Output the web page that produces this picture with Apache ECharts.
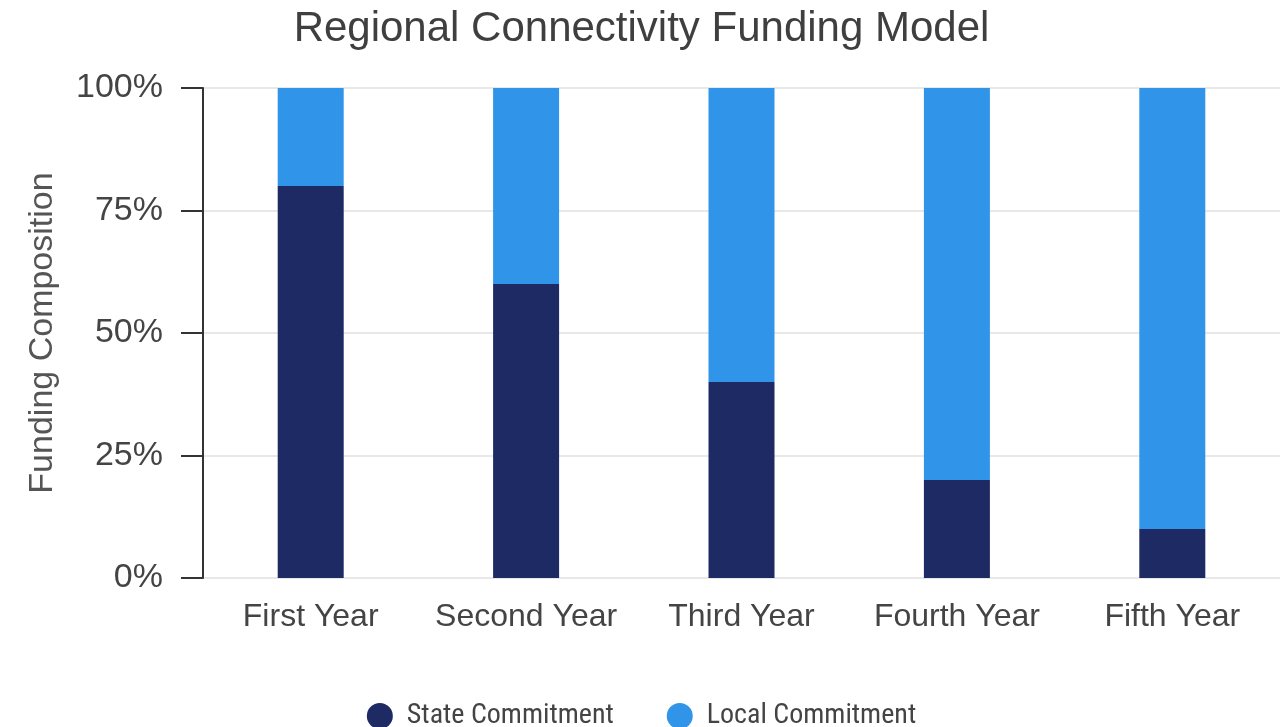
<!DOCTYPE html>
<html>
<head>
<meta charset="utf-8">
<script src="https://cdn.jsdelivr.net/npm/echarts@6/dist/echarts.min.js"></script>
<style>html,body{margin:0;padding:0;background:#fff}#c{width:1283px;height:727px}</style>
</head>
<body>
<div id="c"></div>
<script>
const categories = ['First Year', 'Second Year', 'Third Year', 'Fourth Year', 'Fifth Year'];
const stateCommitment = [80, 60, 40, 20, 10];
const localCommitment = [20, 40, 60, 80, 90];
const yTicks = [0, 25, 50, 75, 100];

const chart = echarts.init(document.getElementById('c'));
chart.setOption({
  animation: false,
  backgroundColor: '#ffffff',
  title: {
    text: 'Regional Connectivity Funding Model',
    left: 'center',
    top: 3,
    textStyle: { fontFamily: 'Liberation Sans, Arial', fontSize: 42, fontWeight: 'normal', color: '#3f3f3f' }
  },
  legend: {
    data: ['State Commitment', 'Local Commitment'],
    left: 'center',
    top: 697,
    icon: 'circle',
    itemWidth: 26,
    itemHeight: 26,
    itemGap: 53,
    textStyle: { fontFamily: "'Roboto Condensed', 'Liberation Sans Narrow', Roboto", fontSize: 28, color: '#444', padding: [0, 0, 0, 9] }
  },
  grid: { left: 203, right: 3, top: 88, bottom: 149 },
  xAxis: {
    type: 'category',
    data: categories,
    axisLine: { show: false },
    axisTick: { show: false },
    axisLabel: { interval: 0, hideOverlap: false, fontFamily: 'Liberation Sans, Arial', fontSize: 32, color: '#444', margin: 23 }
  },
  yAxis: {
    type: 'value',
    min: 0,
    max: 100,
    interval: 25,
    name: 'Funding Composition',
    nameLocation: 'middle',
    nameGap: 143,
    nameTextStyle: { fontFamily: 'Liberation Sans, Arial', fontSize: 34, color: '#555' },
    axisLine: { show: true, lineStyle: { color: '#333', width: 2 } },
    axisTick: { show: true, length: 22, lineStyle: { color: '#333', width: 2 } },
    axisLabel: {
      fontFamily: 'Liberation Sans, Arial', fontSize: 34, color: '#444', margin: 40,
      formatter: v => yTicks.includes(v) ? v + '%' : ''
    },
    splitLine: { show: true, lineStyle: { color: '#e8e8e8', width: 2 } }
  },
  series: [
    {
      name: 'State Commitment', type: 'bar', stack: 'total', barWidth: 66,
      itemStyle: { color: '#1e2a64' }, data: stateCommitment
    },
    {
      name: 'Local Commitment', type: 'bar', stack: 'total', barWidth: 66,
      itemStyle: { color: '#3094e8' }, data: localCommitment
    }
  ]
});
</script>
</body>
</html>
